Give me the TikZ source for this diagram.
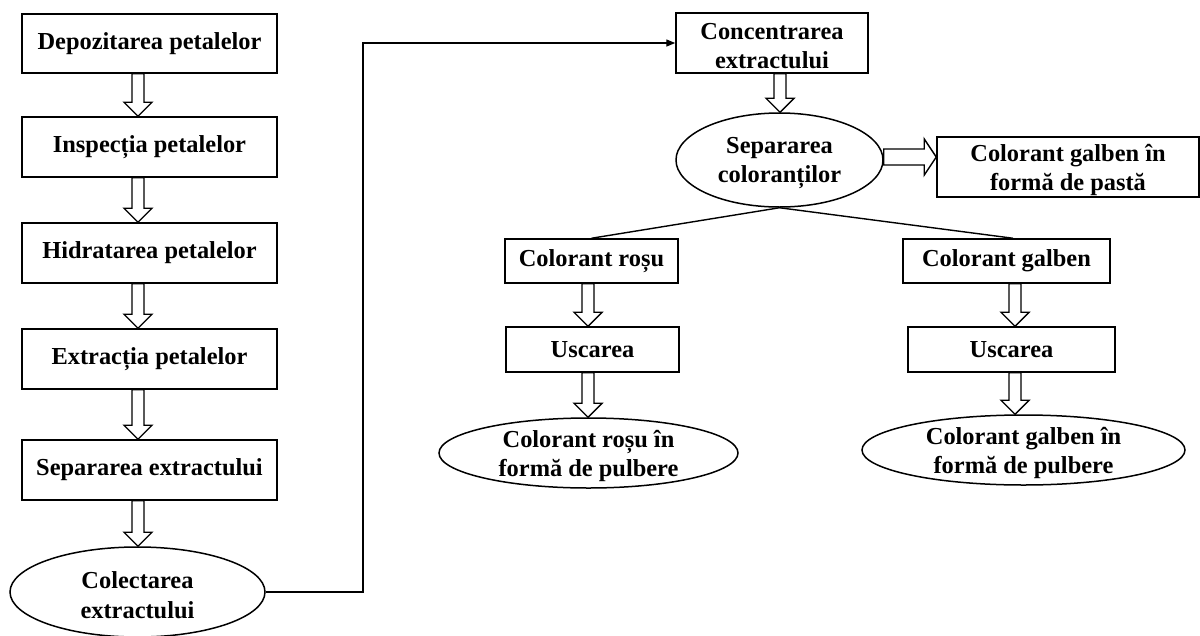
\documentclass[tikz,border=0pt]{standalone}
\usepackage{fontspec}
\setmainfont{Liberation Serif}
\usetikzlibrary{shapes.geometric,arrows.meta,calc}

% hollow block arrow pointing down, drawn on the x of column #1
\newcommand\vblock[3]{%
  \path let \p0=(#1), \p1=(#2), \p2=(#3) in
    [blockarrow]
    (\x0-6pt,\y1) -- (\x0-6pt,\y2+14pt) -- (\x0-14pt,\y2+14pt) -- (\x0,\y2)
    -- (\x0+14pt,\y2+14pt) -- (\x0+6pt,\y2+14pt) -- (\x0+6pt,\y1) -- cycle;}
% hollow block arrow pointing right, drawn on the y of row #1
\newcommand\hblock[3]{%
  \path let \p0=(#1), \p1=(#2), \p2=(#3) in
    [blockarrow]
    (\x1,\y0+8pt) -- (\x2-12pt,\y0+8pt) -- (\x2-12pt,\y0+18pt) -- (\x2,\y0)
    -- (\x2-12pt,\y0-18pt) -- (\x2-12pt,\y0-8pt) -- (\x1,\y0-8pt) -- cycle;}

\begin{document}
\begin{tikzpicture}[x=1pt,y=-1pt,
  every node/.style={font=\fontsize{24.4}{29.5}\selectfont\bfseries,
    align=center, inner sep=0pt},
  stepbox/.style={draw, line width=1.5pt, rectangle},
  oval/.style={draw, line width=1.5pt, ellipse},
  twoline/.style={label={[yshift=-3pt]center:#1}},
  blockarrow/.style={draw, fill=white, line width=1.4pt, line join=miter},
  link/.style={draw, line width=1.4pt}]

\useasboundingbox (0,0) rectangle (1200,635);

% left column
\node[stepbox, minimum width=255pt, minimum height=59pt] (d1) at (149.5,43.5) {Depozitarea petalelor};
\node[stepbox, minimum width=255pt, minimum height=60pt] (d2) at (149.5,147) {Inspecția petalelor};
\node[stepbox, minimum width=255pt, minimum height=60pt] (d3) at (149.5,253) {Hidratarea petalelor};
\node[stepbox, minimum width=255pt, minimum height=60pt] (d4) at (149.5,359) {Extracția petalelor};
\node[stepbox, minimum width=255pt, minimum height=60pt] (d5) at (149.5,470) {Separarea extractului};
\node[oval, twoline={Colectarea\\extractului}, minimum width=255pt, minimum height=90pt] (e1) at (137.5,592) {};

% right part
\node[stepbox, twoline={Concentrarea\\extractului}, minimum width=192pt, minimum height=60pt] (c1) at (772,43) {};
\node[oval, twoline={Separarea\\coloranților}, minimum width=207pt, minimum height=94pt] (e2) at (779.5,160) {};
\node[stepbox, twoline={Colorant galben în\\formă de pastă}, minimum width=262pt, minimum height=60pt] (p1) at (1068,167) {};

\node[stepbox, minimum width=173pt, minimum height=44pt] (r1) at (591.5,261) {Colorant roșu};
\node[stepbox, minimum width=173pt, minimum height=45pt] (r2) at (592.5,349.5) {Uscarea};
\node[oval, twoline={Colorant roșu în\\formă de pulbere}, minimum width=299pt, minimum height=70pt] (r3) at (588.5,453) {};

\node[stepbox, minimum width=207pt, minimum height=44pt] (g1) at (1006.5,261) {Colorant galben};
\node[stepbox, minimum width=207pt, minimum height=45pt] (g2) at (1011.5,349.5) {Uscarea};
\node[oval, twoline={Colorant galben în\\formă de pulbere}, minimum width=323pt, minimum height=70pt] (g3) at (1023.5,450) {};

% column and row lines for the block arrows
\coordinate (colL) at (138,0);
\coordinate (colC) at (780,0);
\coordinate (colR) at (588,0);
\coordinate (colG) at (1015,0);
\coordinate (rowP) at (0,157);
\coordinate (bend) at (363,0);

\vblock{colL}{d1.south}{d2.north}
\vblock{colL}{d2.south}{d3.north}
\vblock{colL}{d3.south}{d4.north}
\vblock{colL}{d4.south}{d5.north}
\vblock{colL}{d5.south}{e1.north}

\vblock{colC}{c1.south}{e2.north}
\hblock{rowP}{e2.east}{p1.west}

\vblock{colR}{r1.south}{r2.north}
\vblock{colR}{r2.south}{r3.north}
\vblock{colG}{g1.south}{g2.north}
\vblock{colG}{g2.south}{g3.north}

% connectors
\draw[link, -{Triangle[length=9pt,width=7pt]}]
  (e1.east) -- (e1.east -| bend) |- (c1.west);
\draw[link] (e2.south) -- (r1.north);
\draw[link] (e2.south) -- ($(g1.north)+(6.5,0)$);

\end{tikzpicture}
\end{document}
